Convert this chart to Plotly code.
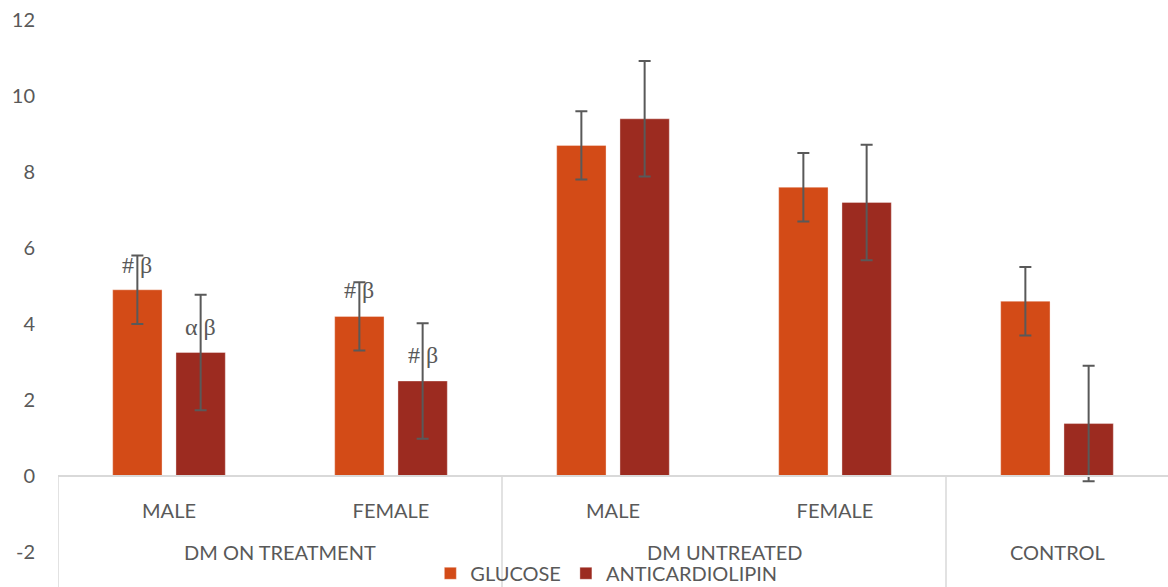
import plotly.graph_objects as go

groups = ["DM ON TREATMENT", "DM ON TREATMENT", "DM UNTREATED", "DM UNTREATED", "CONTROL"]
subcats = ["MALE", "FEMALE", "MALE", "FEMALE", ""]
glucose = [4.9, 4.2, 8.7, 7.6, 4.6]
glucose_err = [0.9, 0.9, 0.9, 0.9, 0.9]
acl = [3.25, 2.5, 9.4, 7.2, 1.38]
acl_err = [1.52, 1.52, 1.52, 1.52, 1.52]
sig_glucose = ["# β", "# β", "", "", ""]
sig_acl = ["α β", "# β", "", "", ""]
sig_glucose_y = [5.55, 4.9, None, None, None]
sig_acl_y = [3.92, 3.18, None, None, None]
y_ticks = [-2, 0, 2, 4, 6, 8, 10, 12]
y_ticktext = ["-2", "0", "2", "4", "6", "8", "10", "12"]

C_GLU = "#D34B17"
C_ACL = "#9C2B20"
GREY = "#595959"
LINE = "#D9D9D9"
FONT = "Lato"

pos = list(range(len(subcats)))

fig = go.Figure()
fig.add_trace(go.Bar(
    x=pos, y=glucose, name="GLUCOSE", marker_color=C_GLU,
    marker_line=dict(color="rgba(255,255,255,0.35)", width=1),
    error_y=dict(type="data", array=glucose_err, color=GREY, thickness=2, width=6),
))
fig.add_trace(go.Bar(
    x=pos, y=acl, name="ANTICARDIOLIPIN", marker_color=C_ACL,
    marker_line=dict(color="rgba(255,255,255,0.35)", width=1),
    error_y=dict(type="data", array=acl_err, color=GREY, thickness=2, width=6),
))

ymin, ymax = -2, 12
off = 0.142
for i in pos:
    if sig_glucose[i]:
        fig.add_annotation(x=i - off, y=sig_glucose_y[i], text=sig_glucose[i], showarrow=False,
                           font=dict(family="Liberation Serif", size=24, color=GREY))
    if sig_acl[i]:
        fig.add_annotation(x=i + off, y=sig_acl_y[i], text=sig_acl[i], showarrow=False,
                           font=dict(family="Liberation Serif", size=24, color=GREY))

# group labels and dividers
axis_paper = (0 - ymin) / (ymax - ymin)
uniq = []
for g in groups:
    if g not in uniq:
        uniq.append(g)
for g in uniq:
    idx = [i for i, gg in enumerate(groups) if gg == g]
    fig.add_annotation(x=(idx[0] + idx[-1]) / 2, xref="x", y=0.0, yref="paper",
                       text=g, showarrow=False, yanchor="middle",
                       font=dict(family=FONT, size=20, color=GREY))
    fig.add_shape(type="line", xref="x", yref="paper", x0=idx[0] - 0.5, x1=idx[0] - 0.5,
                  y0=axis_paper, y1=-0.07, line=dict(color=LINE, width=1.5))

fig.update_layout(
    width=1168, height=587,
    margin=dict(l=58, r=0, t=20, b=35, autoexpand=False),
    paper_bgcolor="white", plot_bgcolor="white",
    barmode="group", bargap=0.43, bargroupgap=0.22,
    font=dict(family=FONT, size=20, color=GREY),
    showlegend=True,
    legend=dict(orientation="h", x=0.494, xanchor="center", y=-0.04, yanchor="middle",
                font=dict(family=FONT, size=20, color=GREY), bgcolor="rgba(0,0,0,0)",
                itemwidth=30, tracegroupgap=0),
    xaxis=dict(range=[-0.5, len(subcats) - 0.5], tickvals=pos, ticktext=subcats,
               anchor="free", position=axis_paper, showline=True, linecolor=LINE, linewidth=1.5,
               showgrid=False, ticks="", ticklabelstandoff=17, zeroline=False, automargin=False,
               tickfont=dict(family=FONT, size=20, color=GREY)),
    yaxis=dict(range=[ymin, ymax], tickvals=y_ticks, ticktext=y_ticktext, showgrid=False,
               zeroline=False, showline=False, automargin=False,
               ticks="", ticklabelstandoff=22, tickfont=dict(family=FONT, size=20, color=GREY)),
)

fig.write_html("out.html", config={"displayModeBar": False},
               post_script="document.body.style.margin='0';document.body.style.overflow='hidden';")
